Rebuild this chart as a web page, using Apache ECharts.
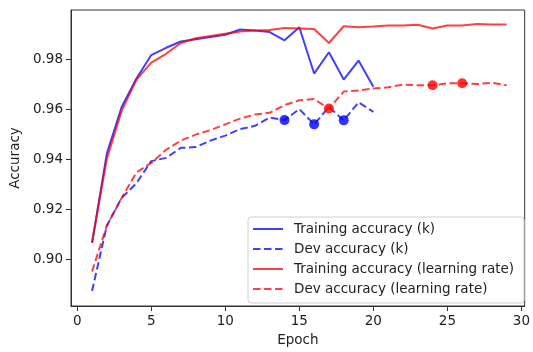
<!DOCTYPE html>
<html>
<head>
<meta charset="utf-8">
<script src="https://cdn.jsdelivr.net/npm/echarts@6/dist/echarts.min.js"></script>
<style>
  html, body { margin: 0; padding: 0; background: #fff; }
  #chart { width: 533px; height: 352px; }
</style>
</head>
<body>
<div id="chart"></div>
<script>
// values
const epochsK = [1, 2, 3, 4, 5, 6, 7, 8, 9, 10, 11, 12, 13, 14, 15, 16, 17, 18, 19, 20]
const epochsLr = [1, 2, 3, 4, 5, 6, 7, 8, 9, 10, 11, 12, 13, 14, 15, 16, 17, 18, 19, 20,
  21, 22, 23, 24, 25, 26, 27, 28, 29]

const trainK = [0.9067, 0.9424, 0.9610, 0.9724, 0.9818, 0.9847, 0.9872, 0.9881, 0.9890, 0.9899,
  0.9920, 0.9916, 0.9910, 0.9877, 0.9929, 0.9744, 0.9829, 0.9720, 0.9796, 0.9691]
const devK = [0.8875, 0.9136, 0.9247, 0.9306, 0.9394, 0.9407, 0.9447, 0.9450, 0.9476, 0.9496,
  0.9522, 0.9535, 0.9568, 0.9558, 0.9602, 0.9541, 0.9610, 0.9557, 0.9629, 0.9591]
const trainLr = [0.9067, 0.9404, 0.9595, 0.9720, 0.9788, 0.9823, 0.9866, 0.9885, 0.9894, 0.9903,
  0.9912, 0.9916, 0.9918, 0.9926, 0.9924, 0.9922, 0.9866, 0.9933, 0.9929, 0.9932,
  0.9936, 0.9936, 0.9939, 0.9924, 0.9936, 0.9936, 0.9942, 0.9940, 0.9940]
const devLr = [0.8953, 0.9136, 0.9247, 0.9349, 0.9387, 0.9439, 0.9476, 0.9500, 0.9518, 0.9541,
  0.9564, 0.9580, 0.9587, 0.9618, 0.9637, 0.9642, 0.9604, 0.9672, 0.9676, 0.9684,
  0.9689, 0.9700, 0.9697, 0.9697, 0.9705, 0.9705, 0.9702, 0.9707, 0.9697]

// epochs that carry a round marker on the dev curves
const markK = [14, 16, 18]
const markLr = [17, 24, 26]

const xTicks = [0, 5, 10, 15, 20, 25, 30]
const yTicks = [0.90, 0.92, 0.94, 0.96, 0.98]

const names = ['Training accuracy (k)', 'Dev accuracy (k)',
  'Training accuracy (learning rate)', 'Dev accuracy (learning rate)']

const blue = 'rgba(0, 0, 255, 0.75)'
const red = 'rgba(255, 0, 0, 0.75)'
const textColor = '#222'
const font = 'DejaVu Sans'

function pairs (xs, ys) {
  return xs.map((x, i) => [x, ys[i]])
}

function marks (which, xs, ys) {
  return which.map(e => [e, ys[xs.indexOf(e)]])
}

function lineSeries (name, xs, ys, color, type) {
  return {
    name: name,
    type: 'line',
    data: pairs(xs, ys),
    symbol: 'none',
    color: color,
    lineStyle: { color: color, width: 2, type: type === 'dashed' ? [7.5, 3.5] : 'solid' },
    animation: false
  }
}

const chart = echarts.init(document.getElementById('chart'))
chart.setOption({
  backgroundColor: '#fff',
  animation: false,
  grid: {
    left: 71,
    right: 2,
    top: 10,
    bottom: 43,
    show: true,
    borderColor: '#333',
    borderWidth: 1
  },
  legend: {
    orient: 'vertical',
    left: 248,
    top: 217,
    data: names,
    itemWidth: 30,
    itemHeight: 14,
    itemGap: 6,
    padding: [5, 10, 7, 4],
    backgroundColor: '#fff',
    borderColor: '#d0d0d0',
    borderWidth: 1,
    borderRadius: 3,
    itemStyle: { opacity: 0 },
    textStyle: { fontFamily: font, fontSize: 13.5, color: textColor, padding: [0, 0, 0, 6] }
  },
  xAxis: {
    type: 'value',
    min: -0.42,
    max: 30.22,
    name: 'Epoch',
    nameLocation: 'middle',
    nameGap: 27,
    nameTextStyle: { fontFamily: font, fontSize: 13.5, color: textColor },
    axisLine: { show: true, onZero: false, lineStyle: { color: '#333', width: 1 } },
    axisTick: { show: true, length: 5, customValues: xTicks, lineStyle: { color: '#333' } },
    axisLabel: {
      customValues: xTicks,
      margin: 8,
      fontFamily: font,
      fontSize: 13.5,
      color: textColor
    },
    splitLine: { show: false }
  },
  yAxis: {
    type: 'value',
    min: 0.8815,
    max: 0.9998,
    name: 'Accuracy',
    nameLocation: 'middle',
    nameGap: 46,
    nameTextStyle: { fontFamily: font, fontSize: 13.5, color: textColor },
    axisLine: { show: true, onZero: false, lineStyle: { color: '#333', width: 1 } },
    axisTick: { show: true, length: 5, customValues: yTicks, lineStyle: { color: '#333' } },
    axisLabel: {
      customValues: yTicks,
      margin: 8,
      fontFamily: font,
      fontSize: 13.5,
      color: textColor,
      formatter: v => v.toFixed(2)
    },
    splitLine: { show: false }
  },
  series: [
    lineSeries(names[0], epochsK, trainK, blue, 'solid'),
    lineSeries(names[1], epochsK, devK, blue, 'dashed'),
    lineSeries(names[2], epochsLr, trainLr, red, 'solid'),
    lineSeries(names[3], epochsLr, devLr, red, 'dashed'),
    {
      name: 'best k',
      type: 'scatter',
      data: marks(markK, epochsK, devK),
      symbolSize: 10,
      itemStyle: { color: '#0000ff' },
      z: 5
    },
    {
      name: 'best lr',
      type: 'scatter',
      data: marks(markLr, epochsLr, devLr),
      symbolSize: 10,
      itemStyle: { color: '#ff0000' },
      z: 5
    }
  ]
})
</script>
</body>
</html>
